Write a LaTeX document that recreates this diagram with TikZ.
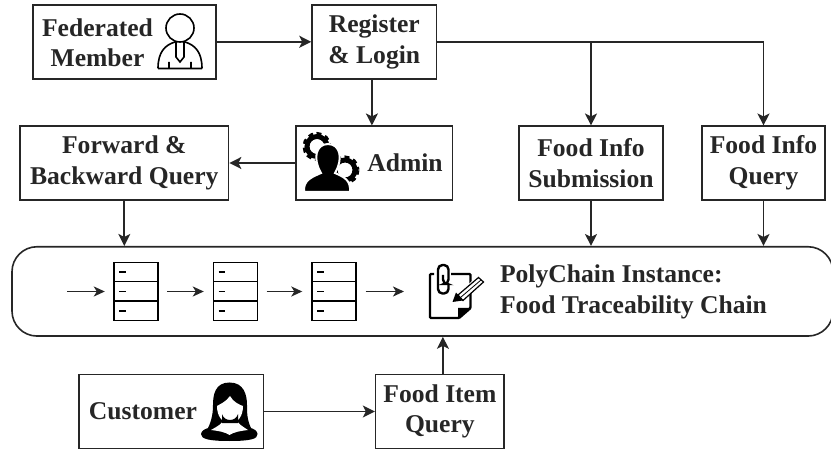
\documentclass[tikz,border=0pt]{standalone}
\usepackage{fontspec}
\setmainfont{Liberation Serif}
\usetikzlibrary{arrows.meta}
\tikzset{
  box/.style={draw=black!85,line width=1.6pt,inner sep=0pt,align=center,font=\fontsize{25.6}{30.5}\selectfont\bfseries,text=black!85},
  label/.style={box,draw=none},
  conn/.style={-{Stealth[length=12pt,width=12pt,inset=3pt]},line width=1.7pt,draw=black!85},
  link/.style={-{Stealth[length=11pt,width=10pt,inset=3pt]},line width=1.7pt,draw=black!85},
  block/.style={draw=black,line width=1.4pt,fill=white,minimum width=44pt,minimum height=19.4pt,inner sep=0pt}
}
\newcommand{\ledger}[2]{%
\node[block] (#1a) at (#2,272) {};
\node[block] (#1b) at (#2,291.5) {};
\node[block] (#1c) at (#2,311) {};
\foreach \yy in {272,291.5,311} \draw[line width=1.7pt] (#2-17,\yy)--(#2-10.5,\yy);
}
\newcommand{\gearicon}[2]{%
\draw[line width=5pt,dash pattern=on 4.5pt off 3.5pt] (#1,#2) circle (12);
\draw[line width=5pt] (#1,#2) circle (10);
\fill[white] (#1,#2) circle (7);
}
\begin{document}
\begin{tikzpicture}[x=1pt,y=-1pt]
\useasboundingbox (0,0) rectangle (831,449);
% boxes
\node[box,minimum width=183.5pt,minimum height=74pt] (member) at (124.5,41.8) {};
\node[label] (membertext) at (97.5,42.5) {Federated\\Member};
\node[box,minimum width=124.5pt,minimum height=74pt] (register) at (374.3,41.8) {Register\\\& Login};
\node[box,minimum width=208.5pt,minimum height=73.5pt] (forward) at (124.3,163) {Forward \&\\Backward Query};
\node[box,minimum width=156.5pt,minimum height=73.5pt] (admin) at (374.3,163) {};
\node[label] (admintext) at (405,163) {Admin};
\node[box,minimum width=144pt,minimum height=73.5pt] (submit) at (591,163) {Food Info\\Submission};
\node[box,minimum width=123pt,minimum height=73.5pt] (infoquery) at (763.5,163) {Food Info\\Query};
\node[box,rounded corners=25pt,minimum width=821pt,minimum height=89.3pt] (chain) at (422.5,291.4) {};
\node[label,align=left] (chaintext) at (633.5,292) {PolyChain Instance:\\Food Traceability Chain};
\node[box,minimum width=184.5pt,minimum height=74pt] (customer) at (171.2,411.5) {};
\node[label] (customertext) at (143,411.5) {Customer};
\node[box,minimum width=128.5pt,minimum height=74pt] (itemquery) at (439.9,411.5) {Food Item\\Query};
% ledger blocks
\ledger{one}{136}
\ledger{two}{235.5}
\ledger{three}{334}
\coordinate (start) at (67,291.5);
\coordinate (end) at (404,291.5);
\coordinate (split) at (591,41.8);
\coordinate (corner) at (763.5,41.8);
\draw[link,shorten >=8.5pt] (start)--(oneb.west);
\draw[link,shorten <=8.5pt,shorten >=9pt] (oneb.east)--(twob.west);
\draw[link,shorten <=8.5pt,shorten >=9pt] (twob.east)--(threeb.west);
\draw[link,shorten <=9pt] (threeb.east)--(end);
% connectors
\draw[conn] (member.east)--(register.west);
\draw[conn] ([xshift=-2.4pt]register.south)--([xshift=-2.4pt]admin.north);
\draw[conn] (admin.west)--(forward.east);
\draw[conn] (register.east)--(corner)--(infoquery.north);
\draw[conn] (split)--(submit.north);
\draw[conn] (forward.south)--(forward.south|-chain.north);
\draw[conn] (submit.south)--(submit.south|-chain.north);
\draw[conn] (infoquery.south)--(infoquery.south|-chain.north);
\draw[conn] ([xshift=3pt]itemquery.north)--([xshift=3pt]itemquery.north|-chain.south);
\draw[conn] (customer.east)--(itemquery.west);
% member icon
\begin{scope}[line width=1.6pt]
\draw (180,28) circle (14);
\draw (158,68.5)--(202,68.5) (158,68.5)..controls (158,52) and (165,45) .. (175,42) (202,68.5)..controls (202,52) and (195,45) .. (185,42);
\draw (176,42)--(176,57)--(180,62)--(184,57)--(184,42) (169,62)--(169,68) (191,62)--(191,68);
\end{scope}
% admin icon
\gearicon{317}{146.5}
\gearicon{345}{170}
\draw[white,line width=2pt,fill=black] (304,192) .. controls (303,180) and (312,177) .. (321,173) .. controls (313,160) and (315,144) .. (328,144) .. controls (341,144) and (343,160) .. (335,173) .. controls (344,177) and (351,180) .. (350,192) -- cycle;
% clip icon
\draw[line width=2.4pt,rounded corners=1pt] (434,274)--(430,274)--(430,318)--(459,318)--(470.5,308)--(470.5,274)--(450,274);
\fill (458,319)--(458,308)--(471,308)--cycle;
\draw[white,line width=5pt] (440,287) rectangle (448,270);
\draw[line width=2.4pt,rounded corners=4.5pt] (438,275)--(438,265)--(448.5,265)--(448.5,284)--(443,284)--(443,275);
\draw[line width=2.4pt,rounded corners=4.5pt] (438,275)--(438,293.5)--(448.5,293.5)--(448.5,284);
\draw[white,line width=3.5pt] (458,296)--(478,278);
\draw[line width=1.2pt,fill=white] (458,295)--(478.5,277.5)--(483.5,282)--(463,300.5)--cycle;
\draw[line width=.8pt] (460.5,297.5)--(481,280);
\fill (452.5,302)--(456,292.5)--(463,300.5)--cycle;
% customer icon
\fill (229.5,382.5) .. controls (215,382.5) and (213,395) .. (213,405) .. controls (213,412) and (212,420) .. (208,428) -- (251,428) .. controls (247,420) and (247,412) .. (247,405) .. controls (247,395) and (244,382.5) .. (229.5,382.5) -- cycle;
\fill (201,434) .. controls (202,428) and (212,426) .. (229.5,426) .. controls (247,426) and (257,428) .. (257.5,434) .. controls (258,439) and (250,441) .. (229.5,441) .. controls (209,441) and (201,439) .. (201,434) -- cycle;
\fill[white] (230,396) .. controls (226,402) and (220,404) .. (217,406) .. controls (217,416) and (222,423) .. (230,423) .. controls (238,423) and (243,416) .. (243,406) .. controls (240,405) and (233,402) .. (230,396) -- cycle;
\fill[white] (211,430) .. controls (218,426) and (222,424) .. (224,419) -- (236,419) .. controls (238,424) and (242,426) .. (248,430) .. controls (240,431) and (234,432) .. (229.5,435) .. controls (225,432) and (219,431) .. (211,430) -- cycle;
\fill (222,414) .. controls (224,422) and (236,422) .. (238,414) -- (238,423) -- (222,423) -- cycle;
\end{tikzpicture}
\end{document}
